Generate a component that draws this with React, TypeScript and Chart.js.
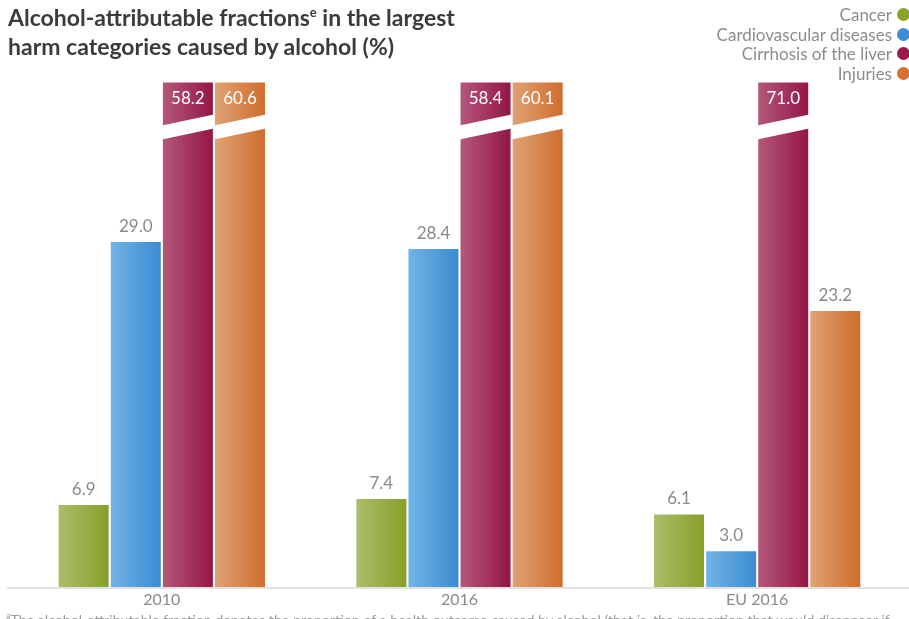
import React, { useEffect, useRef } from "react";
import { Chart, registerables } from "chart.js";

Chart.register(...registerables);

const categories = ["2010", "2016", "EU 2016"];
const seriesNames = ["Cancer", "Cardiovascular diseases", "Cirrhosis of the liver", "Injuries"];
const cancer = [6.9, 7.4, 6.1];
const cardiovascular = [29.0, 28.4, 3.0];
const cirrhosis = [58.2, 58.4, 71.0];
const injuries = [60.6, 60.1, 23.2];
const breakValue = 42.4; // bars above this value are drawn broken (axis break)

const lightColors = ["#abbd6a", "#72b3e4", "#b3587a", "#e0a274"];
const darkColors = ["#86a02a", "#3a8cd2", "#941645", "#cf6d2d"];
const legendColors = ["#8aa12e", "#3b8fd5", "#9a1b49", "#d3732f"];

const FONT = "Lato, 'Open Sans', sans-serif";

const barPlugin = {
  id: "barDecor",
  beforeDatasetsDraw(chart: any) {
    const ctx = chart.ctx;
    const area = chart.chartArea;
    ctx.save();
    ctx.fillStyle = "#e2e2e2";
    ctx.fillRect(7, area.bottom, 902, 2);
    ctx.restore();
    chart.data.datasets.forEach((ds: any, di: number) => {
      const meta = chart.getDatasetMeta(di);
      meta.data.forEach((el: any) => {
        const { x, width } = el.getProps(["x", "width"], true);
        const g = ctx.createLinearGradient(x - width / 2, 0, x + width / 2, 0);
        g.addColorStop(0, lightColors[di]);
        g.addColorStop(1, darkColors[di]);
        el.options.backgroundColor = g;
      });
    });
  },
  afterDatasetsDraw(chart: any) {
    const ctx = chart.ctx;
    ctx.save();
    chart.data.datasets.forEach((ds: any, di: number) => {
      const meta = chart.getDatasetMeta(di);
      meta.data.forEach((el: any, i: number) => {
        const { x, y, width } = el.getProps(["x", "y", "width"], true);
        const real = ds.realValues[i];
        const left = x - width / 2 - 1;
        const right = x + width / 2 + 1;
        ctx.font = `17px ${FONT}`;
        ctx.textAlign = "center";
        ctx.textBaseline = "alphabetic";
        if (real > breakValue) {
          ctx.fillStyle = "#ffffff";
          ctx.beginPath();
          ctx.moveTo(left, y + 43);
          ctx.lineTo(right, y + 32);
          ctx.lineTo(right, y + 46);
          ctx.lineTo(left, y + 57);
          ctx.closePath();
          ctx.fill();
          ctx.fillText(real.toFixed(1), x, y + 22);
        } else {
          ctx.fillStyle = "#8a8a8a";
          ctx.fillText(real.toFixed(1), x, y - 10);
        }
      });
    });
    ctx.restore();
  },
};

const allSeries = [cancer, cardiovascular, cirrhosis, injuries];

export default function App() {
  const ref = useRef<HTMLCanvasElement | null>(null);
  useEffect(() => {
    if (!ref.current) return;
    const chart = new Chart(ref.current, {
      type: "bar",
      data: {
        labels: categories,
        datasets: allSeries.map((vals, di) => ({
          label: seriesNames[di],
          data: vals.map((v) => Math.min(v, breakValue)),
          realValues: vals,
          backgroundColor: () => darkColors[di],
          borderWidth: 0,
          categoryPercentage: 0.7,
          barPercentage: 0.96,
        })) as any,
      },
      options: {
        animation: false,
        responsive: false,
        devicePixelRatio: 1,
        layout: { padding: { left: 13, right: 3, top: 51.5, bottom: 6 } },
        plugins: { legend: { display: false }, tooltip: { enabled: false }, title: { display: false } },
        scales: {
          x: {
            grid: { display: false, drawTicks: false },
            border: { display: false },
            ticks: { color: "#8a8a8a", font: { size: 16, family: FONT }, padding: 3.4 },
          },
          y: { display: false, min: 0, max: 45 },
        },
      },
      plugins: [barPlugin],
    });
    return () => chart.destroy();
  }, []);

  return (
    <div style={{ position: "fixed", left: 0, top: 0, width: 909, height: 619, overflow: "hidden", background: "#fff", fontFamily: FONT }}>
      <canvas ref={ref} width={909} height={619} style={{ position: "absolute", left: 0, top: 0 }} />
      <div style={{ position: "absolute", left: 8, top: 3, font: `700 23px ${FONT}`, lineHeight: "29px", color: "#3b3b3b" }}>
        Alcohol-attributable fractions<sup style={{ fontSize: 13, verticalAlign: "9px", lineHeight: 0 }}>e</sup> in the largest
        <br />
        harm categories caused by alcohol (%)
      </div>
      <div style={{ position: "absolute", right: 0, top: 5, textAlign: "right" }}>
        {seriesNames.map((name, i) => (
          <div key={name} style={{ display: "flex", justifyContent: "flex-end", alignItems: "center", height: 19.6, fontSize: 17, color: "#8c8c8c" }}>
            <span>{name}</span>
            <span style={{ display: "inline-block", width: 13, height: 13, borderRadius: "50%", background: legendColors[i], marginLeft: 5, marginRight: -1 }} />
          </div>
        ))}
      </div>
      <div style={{ position: "absolute", left: 6, top: 610, fontSize: 14.2, color: "#9a9a9a", whiteSpace: "nowrap" }}>
        <sup style={{ fontSize: 9 }}>a</sup>The alcohol-attributable fraction denotes the proportion of a health outcome caused by alcohol (that is, the proportion that would disappear if
      </div>
    </div>
  );
}
